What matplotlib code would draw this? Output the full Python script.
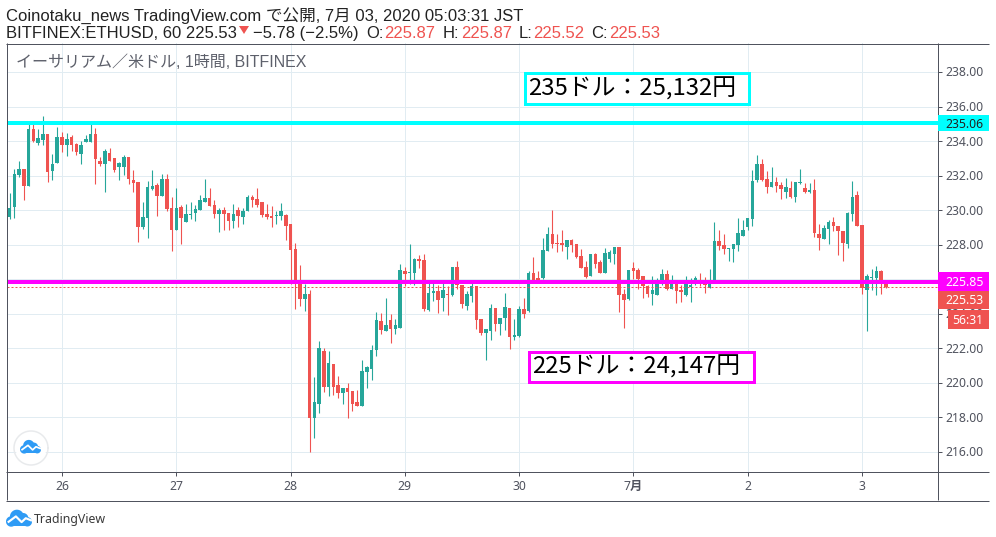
import numpy as np
import matplotlib
matplotlib.use('Agg')
import matplotlib.pyplot as plt
from matplotlib.patches import Rectangle, Circle, Polygon
from matplotlib.lines import Line2D

plt.rcParams['font.family'] = ['Liberation Sans', 'Noto Sans CJK JP', 'DejaVu Sans']

# precos, 1 candle por hora
opens = [229.62, 230.20, 232.03, 232.36, 231.39, 234.69, 233.88, 234.06, 234.41, 232.26,
         232.73, 234.23, 233.77, 234.23, 233.83, 233.25, 233.94, 233.94, 234.41, 232.84,
         232.67, 233.31, 233.02, 232.49, 232.49, 233.07, 231.74, 231.63, 229.02, 229.55,
         231.23, 231.46, 230.82, 231.81, 230.13, 228.85, 230.19, 229.32, 229.72, 229.84,
         230.01, 230.48, 230.71, 230.30, 229.78, 230.01, 229.84, 229.38, 230.01, 229.61,
         229.95, 230.76, 230.65, 230.48, 229.78, 229.66, 229.68, 229.66, 229.72, 229.20,
         227.74, 225.76, 224.85, 225.14, 217.96, 218.77, 221.84, 219.75, 221.09, 219.87,
         219.41, 219.70, 219.52, 218.89, 218.65, 220.62, 220.80, 221.90, 223.58, 223.00,
         223.63, 223.11, 223.17, 226.47, 226.37, 226.35, 227.17, 227.11, 224.22, 225.20,
         225.32, 224.91, 225.14, 225.09, 226.71, 225.66, 224.45, 225.03, 225.61, 223.70,
         222.89, 223.00, 224.33, 223.41, 223.75, 224.33, 222.65, 222.71, 224.28, 224.16,
         226.36, 226.07, 226.05, 227.61, 228.60, 228.08, 228.08, 227.85, 228.25, 228.02,
         227.32, 226.69, 226.17, 227.44, 226.98, 226.34, 227.15, 227.44, 227.85, 225.12,
         224.83, 226.63, 226.51, 226.17, 225.59, 225.12, 225.07, 225.76, 226.28, 225.41,
         225.76, 225.36, 225.07, 225.53, 225.70, 225.93, 225.76, 225.49, 225.90, 228.22,
         227.99, 227.75, 227.75, 227.99, 228.51, 229.03, 229.49, 231.75, 232.68, 231.81,
         231.34, 231.63, 231.46, 231.05, 231.29, 230.76, 231.55, 231.29, 231.05, 231.17,
         228.62, 228.33, 228.91, 229.32, 229.09, 228.80, 228.04, 229.78, 230.88, 229.14,
         225.38, 226.07, 226.07, 226.48, 225.87]
highs = [230.99, 232.36, 232.84, 232.36, 235.16, 234.98, 234.69, 235.45, 234.41, 233.25,
         234.81, 234.52, 234.46, 234.35, 233.88, 234.00, 234.35, 235.10, 234.75, 233.07,
         233.54, 233.59, 233.02, 232.78, 233.19, 233.07, 232.32, 231.63, 230.47, 231.69,
         232.33, 231.58, 232.10, 232.10, 230.76, 231.29, 230.30, 230.36, 230.48, 230.30,
         230.88, 231.81, 231.29, 230.59, 230.13, 230.19, 229.84, 230.36, 230.19, 230.13,
         230.88, 230.88, 231.29, 230.48, 230.36, 230.24, 229.95, 230.42, 229.78, 229.20,
         228.09, 226.82, 225.72, 225.37, 220.33, 222.42, 222.01, 221.84, 221.09, 220.39,
         219.70, 219.99, 219.52, 219.58, 221.32, 220.97, 222.19, 224.10, 224.04, 224.91,
         223.98, 223.69, 226.88, 226.70, 228.03, 227.22, 227.40, 227.46, 225.90, 225.78,
         225.66, 225.76, 225.61, 226.71, 227.05, 225.66, 225.32, 225.95, 225.61, 223.70,
         223.12, 224.56, 224.33, 223.75, 225.20, 224.33, 223.70, 224.45, 224.91, 226.48,
         227.28, 226.48, 228.37, 229.00, 229.99, 228.60, 228.83, 228.25, 228.31, 228.02,
         227.73, 227.04, 227.44, 227.50, 227.09, 227.79, 227.67, 227.85, 227.85, 225.41,
         226.51, 226.98, 226.63, 226.17, 225.65, 226.17, 226.05, 226.57, 226.51, 226.22,
         225.93, 225.65, 226.17, 226.05, 226.17, 226.34, 226.11, 226.57, 229.32, 228.85,
         228.62, 227.81, 228.04, 229.55, 229.43, 229.55, 232.33, 233.20, 232.97, 232.27,
         232.50, 231.92, 231.63, 231.86, 231.69, 231.63, 232.39, 231.58, 231.58, 231.81,
         229.20, 229.14, 229.43, 229.61, 229.09, 228.80, 229.90, 231.69, 231.11, 229.14,
         226.31, 226.60, 226.77, 226.54, 225.87]
lows = [229.50, 229.56, 231.93, 230.58, 231.39, 233.94, 233.77, 233.77, 231.63, 231.74,
        232.73, 233.36, 233.13, 233.42, 233.19, 232.67, 233.94, 233.94, 231.51, 232.55,
        231.05, 232.84, 232.20, 231.74, 232.03, 231.51, 231.05, 228.15, 228.90, 228.39,
        231.17, 229.66, 230.82, 229.95, 227.64, 228.85, 228.04, 229.32, 229.49, 229.38,
        230.01, 230.48, 230.24, 229.55, 228.74, 228.85, 228.85, 228.97, 229.03, 229.20,
        229.95, 230.19, 230.19, 229.61, 229.49, 229.03, 229.20, 229.43, 228.28, 225.73,
        224.27, 224.44, 224.15, 215.99, 216.80, 218.25, 219.46, 219.23, 219.29, 219.12,
        218.77, 217.96, 218.36, 218.65, 218.65, 219.70, 220.16, 221.55, 222.82, 223.00,
        222.30, 222.82, 223.17, 225.60, 225.72, 225.66, 226.63, 224.16, 224.16, 224.74,
        224.04, 224.16, 223.93, 225.03, 225.43, 224.33, 224.22, 224.68, 223.12, 222.77,
        221.32, 222.48, 223.00, 222.77, 223.06, 221.96, 222.48, 222.65, 223.75, 224.10,
        225.80, 225.85, 226.03, 227.61, 227.79, 227.56, 227.61, 227.15, 227.56, 227.21,
        226.63, 226.05, 226.17, 226.63, 226.34, 226.34, 226.98, 226.86, 224.08, 223.16,
        224.78, 225.99, 225.41, 224.89, 224.95, 224.49, 225.07, 225.65, 225.36, 225.41,
        224.60, 224.66, 225.01, 224.66, 225.65, 225.60, 225.18, 225.47, 225.90, 227.70,
        227.46, 227.06, 227.00, 227.64, 228.51, 228.85, 229.09, 231.63, 231.69, 231.00,
        231.34, 231.05, 230.65, 230.71, 230.71, 230.48, 231.52, 231.00, 231.00, 228.45,
        227.70, 228.33, 228.04, 228.80, 227.41, 227.06, 227.81, 229.38, 229.09, 225.15,
        223.00, 225.38, 225.09, 225.15, 225.52]
closes = [230.12, 232.07, 232.36, 231.39, 234.69, 234.00, 234.17, 234.41, 232.20, 232.67,
          234.23, 233.77, 234.12, 233.77, 233.36, 233.77, 234.12, 234.41, 232.96, 232.67,
          233.42, 232.84, 232.32, 232.73, 233.07, 231.80, 231.57, 229.02, 229.60, 231.34,
          231.40, 230.82, 231.81, 230.07, 228.85, 230.13, 229.55, 229.78, 229.78, 230.07,
          230.59, 230.71, 230.24, 229.78, 230.01, 229.78, 229.38, 229.78, 229.66, 229.95,
          230.76, 230.59, 230.30, 229.72, 229.61, 229.55, 229.72, 229.95, 229.09, 227.70,
          225.76, 224.85, 225.14, 217.96, 218.89, 222.01, 219.75, 221.14, 219.75, 219.41,
          219.70, 219.46, 218.77, 218.65, 220.68, 220.91, 221.90, 223.63, 223.05, 223.34,
          223.11, 223.34, 226.53, 226.30, 226.41, 227.17, 227.05, 224.28, 225.20, 225.32,
          224.80, 225.38, 225.09, 226.71, 225.66, 224.56, 225.14, 225.61, 223.64, 222.89,
          223.12, 224.33, 223.41, 223.75, 224.39, 222.65, 222.77, 224.28, 223.99, 226.36,
          225.90, 225.95, 227.67, 228.60, 228.02, 228.02, 227.96, 228.25, 227.96, 227.27,
          226.63, 226.11, 227.44, 226.86, 226.34, 227.50, 227.56, 227.85, 225.07, 224.78,
          226.51, 226.46, 225.99, 225.59, 225.12, 225.36, 225.76, 226.28, 225.41, 225.76,
          225.30, 225.24, 225.70, 225.65, 226.05, 225.76, 225.65, 225.90, 228.22, 227.93,
          227.75, 227.81, 228.04, 228.68, 228.85, 229.55, 231.69, 232.68, 231.75, 231.34,
          231.63, 231.40, 231.23, 231.34, 230.76, 231.63, 231.63, 231.05, 231.17, 228.68,
          228.39, 228.97, 229.32, 229.09, 228.80, 228.10, 229.84, 230.76, 229.09, 225.50,
          226.19, 226.13, 226.48, 225.87, 225.53]

price_ticks = [216, 218, 220, 222, 224, 226, 228, 230, 232, 234, 236, 238]
day_labels = ['26', '27', '28', '29', '30', '7月', '2', '3']
day_pos = [0, 24, 48, 72, 96, 120, 144, 168]
first_bar = -11

resist = 235.06
support = 225.85
last = 225.53

W, H = 996, 537
GREEN = '#26a69a'
RED = '#ef5350'
GRID = '#e1ecf2'
AXC = '#50535e'
CYAN = '#00ffff'
MAGENTA = '#ff00ff'
BLUE = '#2e9bf5'


def fx(x):
    return x / W


def fy(y):
    return 1 - y / H


def lw_px(n):
    return n * 72 / 100


def fig_rect(x0, y0, x1, y1, **kw):
    r = Rectangle((fx(x0), fy(y1)), (x1 - x0) / W, (y1 - y0) / H,
                  transform=fig.transFigure, **kw)
    fig.add_artist(r)


def fig_line(xs, ys, color, lw=1, z=4):
    fig.add_artist(Line2D([fx(v) for v in xs], [fy(v) for v in ys], color=color,
                          lw=lw_px(lw), transform=fig.transFigure, zorder=z,
                          solid_capstyle='butt'))


def logo(x0, y0, w, h):
    # nuvem do TradingView
    sx = w / W
    sy = h / H
    to_fig = lambda px, py: (fx(x0) + px * sx, fy(y0) - py * sy)
    lobes = [(0.20, 0.70, 0.20), (0.42, 0.38, 0.27), (0.66, 0.48, 0.20), (0.82, 0.72, 0.18)]
    for px, py, r in lobes:
        theta = np.linspace(0, 2 * np.pi, 40)
        pts = [to_fig(px + r * np.cos(t), py + r * np.sin(t) * w / h) for t in theta]
        fig.add_artist(Polygon(pts, closed=True, fc=BLUE, ec='none',
                               transform=fig.transFigure, zorder=6))
    base = [to_fig(0.18, 0.55), to_fig(0.82, 0.55), to_fig(0.82, 0.98), to_fig(0.18, 0.98)]
    fig.add_artist(Polygon(base, closed=True, fc=BLUE, ec='none',
                           transform=fig.transFigure, zorder=6))
    zig = [to_fig(0.10, 0.72), to_fig(0.38, 0.36), to_fig(0.60, 0.74), to_fig(0.76, 0.48), to_fig(0.96, 0.62)]
    fig.add_artist(Line2D([p[0] for p in zig], [p[1] for p in zig], color='white',
                          lw=lw_px(h / 7), transform=fig.transFigure, zorder=7))


fig = plt.figure(figsize=(W / 100, H / 100), dpi=100)

# area principal do grafico
left, right, top, bottom = 6.5, 937.5, 43.5, 471.5
ax = fig.add_axes([fx(left), fy(bottom), (right - left) / W, (bottom - top) / H])
bar_px = (862 - 62) / 168
ax.set_xlim((left - 62) / bar_px, (right - 62) / bar_px)
px_price = 380 / 22
ax.set_ylim(238 - (bottom - 72) / px_price, 238 + (72 - top) / px_price)

o = np.array(opens)
h = np.array(highs)
l = np.array(lows)
c = np.array(closes)
idx = np.arange(len(o)) + first_bar
colors = [GREEN if cl >= op else RED for op, cl in zip(o, c)]

ax.set_axisbelow(True)
ax.set_xticks(day_pos)
ax.set_yticks(price_ticks)
ax.grid(True, color=GRID, lw=lw_px(1))
ax.tick_params(length=0, labelbottom=False, labelleft=False)
for s in ax.spines.values():
    s.set_visible(False)

ax.vlines(idx, l, h, colors=colors, lw=lw_px(1.1), zorder=2)
body_low = np.minimum(o, c)
body_h = np.maximum(np.abs(c - o), 0.06)
ax.bar(idx, body_h, bottom=body_low, width=3.5 / bar_px, color=colors, lw=0, zorder=3)

ax.axhline(last, color=RED, lw=lw_px(1), ls=(0, (2, 2)), zorder=4)
ax.axhline(resist, color=CYAN, lw=lw_px(4), zorder=5)
ax.axhline(support, color=MAGENTA, lw=lw_px(4), zorder=5)

ax.text(fx(16 - left) * W / (right - left), 1 - (62 - top) / (bottom - top), 'イーサリアム／米ドル, 1時間, BITFINEX',
        transform=ax.transAxes, fontsize=11.55, color='#5d606b', va='center', ha='left', zorder=6)

# moldura e eixos
fig_line([6.5, 6.5], [43, 500], AXC)
fig_line([6, 989], [43.5, 43.5], AXC)
fig_line([6, 989], [471.5, 471.5], AXC)
fig_line([6, 989], [500.5, 500.5], AXC)
fig_line([937.5, 937.5], [43, 500], AXC)

tick_font = ['Noto Sans', 'Noto Sans CJK JP', 'DejaVu Sans']
for p in price_ticks:
    y = 72 + (238 - p) * px_price
    fig_line([937.5, 942], [y, y], AXC, z=3)
    # 226.00 fica todo atras da etiqueta magenta
    if p != 226:
        fig.text(fx(945), fy(y + 1), f'{p:.2f}', fontsize=8.8, color=AXC, va='center', ha='left',
                 family=tick_font, zorder=3)
for d, lab in zip(day_pos, day_labels):
    x = 62 + d * bar_px
    fig_line([x, x], [471.5, 476], AXC, z=3)
    fig.text(fx(x), fy(486), lab, fontsize=8.8, color=AXC, va='center', ha='center', family=tick_font,
             fontweight='bold' if lab == '7月' else 'normal')

# etiquetas de preco na direita
price_boxes = [(115, 131, 938, 989, CYAN, '235.06', '#222222', 945),
               (272, 291, 938, 989, MAGENTA, '225.85', 'white', 945),
               (291, 309, 938, 989, RED, '225.53', 'white', 945),
               (310, 329, 948, 989, RED, '56:31', 'white', 952)]
for y0, y1, x0, x1, col, txt, tcol, tx in price_boxes:
    fig_rect(x0, y0, x1, y1, fc=col, ec='none', zorder=5)
    fig.text(fx(tx), fy((y0 + y1) / 2 + 1), txt, fontsize=8.8, color=tcol, va='center', ha='left',
             family=tick_font, zorder=6)

# caixas de texto
notes = [(524.5, 73.5, 749, 104, CYAN, '235ドル：25,132円'),
         (528.5, 351.5, 753.5, 382, MAGENTA, '225ドル：24,147円')]
for x0, y0, x1, y1, col, txt in notes:
    fig_rect(x0, y0, x1, y1, fc='white', ec=col, lw=lw_px(3), zorder=5)
    fig.text(fx(x0 + 4), fy((y0 + y1) / 2), txt, fontsize=17.2, color='black', va='center', ha='left',
             family=['Noto Sans CJK JP', 'DejaVu Sans'], zorder=6)

# cabecalho
head = 11.95
fig.text(fx(6), fy(21), 'Coinotaku_news TradingView.com で公開, 7月 03, 2020 05:03:31 JST',
         fontsize=head, color='#222222', va='baseline', ha='left')
pieces = [(6, 'BITFINEX:ETHUSD, 60 225.53', '#222222'),
          (253, '−5.78 (−2.5%)', '#222222'),
          (366, 'O:', '#222222'), (384, '225.87', RED),
          (443, 'H:', '#222222'), (461, '225.87', RED),
          (519, 'L:', '#222222'), (533, '225.52', RED),
          (591, 'C:', '#222222'), (609, '225.53', RED)]
for x, txt, col in pieces:
    fig.text(fx(x), fy(38), txt, fontsize=head, color=col, va='baseline', ha='left')
fig.add_artist(Polygon([(fx(239), fy(26)), (fx(249), fy(26)), (fx(244), fy(34))], closed=True,
                       fc=RED, ec='none', transform=fig.transFigure, zorder=6))

# logos
fig.add_artist(Circle((fx(31), fy(448)), 17 / W, fc='white', ec='none', transform=fig.transFigure, zorder=4))
theta = np.linspace(0, 2 * np.pi, 80)
fig.add_artist(Line2D(fx(31) + 17 / W * np.cos(theta), fy(448) + 17 / H * np.sin(theta), color='#e8eaec',
                      lw=lw_px(1.5), transform=fig.transFigure, zorder=5))
logo(20, 441, 21, 12)
logo(6, 511, 26, 15)
fig.text(fx(34), fy(519), 'TradingView', fontsize=8.9, color='#3a3a3a', va='center', ha='left',
         family=tick_font)

fig.savefig('out.png', dpi=100, facecolor='white')
